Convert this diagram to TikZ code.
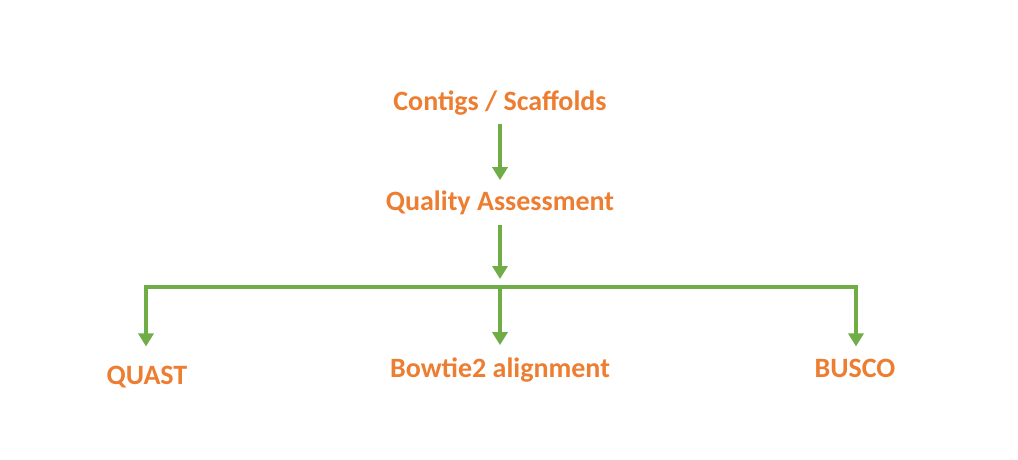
\documentclass[tikz,border=0pt]{standalone}
\usepackage{fontspec}
\setmainfont{Carlito}
\usetikzlibrary{arrows.meta}
\definecolor{steporange}{HTML}{ED7D31}
\definecolor{flowgreen}{HTML}{70AD47}
\tikzset{
  label/.style={text=steporange, font=\fontsize{28}{32}\selectfont\bfseries, inner sep=0pt, anchor=base},
  flow/.style={draw=flowgreen, line width=3.6pt, -{Triangle[length=13pt,width=15pt]}},
  wire/.style={draw=flowgreen, line width=3.6pt, line cap=rect}
}
\begin{document}
\begin{tikzpicture}[x=1pt,y=-1pt]
  \useasboundingbox (0,0) rectangle (1018,459);
  % pipeline labels
  \node[label] (cs)  at (500,110) {Contigs / Scaffolds};
  \node[label] (qa)  at (500,210) {Quality Assessment};
  \node[label] (qu)  at (147,384) {QUAST};
  \node[label] (bt)  at (500,377) {Bowtie2 alignment};
  \node[label] (bu)  at (855,377) {BUSCO};
  % branch points on the distribution bar
  \coordinate (j)  at (500,287);
  \coordinate (jl) at (146,287);
  \coordinate (jr) at (856,287);
  % vertical flow
  \draw[flow, shorten <=9pt, shorten >=10pt] (cs) -- (qa);
  \draw[flow, shorten <=10pt, shorten >=8pt] (qa) -- (j);
  % distribution bar and branches
  \draw[wire] (jl) -- (jr);
  \draw[flow, shorten >=19pt] (jl) -- (jl |- qu.north);
  \draw[flow, shorten >=12pt] (j) -- (bt);
  \draw[flow, shorten >=12pt] (jr) -- (jr |- bu.north);
\end{tikzpicture}
\end{document}
